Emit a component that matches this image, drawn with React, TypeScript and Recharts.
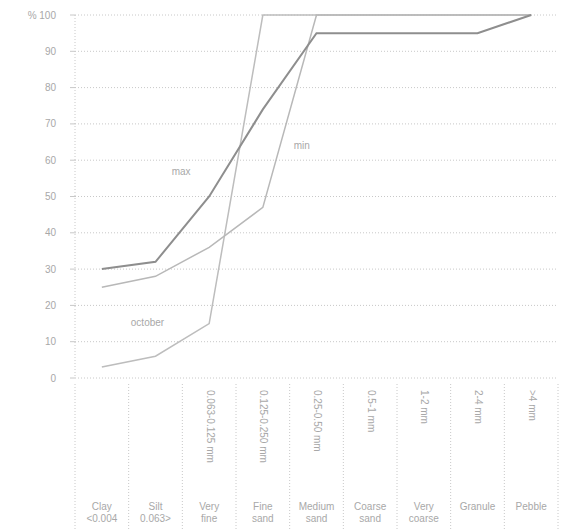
import React from "react";
import { LineChart, Line, XAxis, YAxis, CartesianGrid } from "recharts";

// Grain size categories (two text rows under the chart)
const categories = ["Clay", "Silt", "Very", "Fine", "Medium", "Coarse", "Very", "Granule", "Pebble"];
const subLabels = ["<0.004", "0.063>", "fine", "sand", "sand", "sand", "coarse", "", ""];
// Rotated size ranges inside each column
const sizeRanges = ["", "", "0.063-0.125 mm", "0.125-0.250 mm", "0.25-0.50 mm", "0.5-1 mm", "1-2 mm", "2-4 mm", ">4 mm"];

// Cumulative percent
const maxValues = [30, 32, 50, 74, 95, 95, 95, 95, 100];
const minValues = [25, 28, 36, 47, 100, 100, 100, 100, 100];
const octoberValues = [3, 6, 15, 100, 100, 100, 100, 100, 100];

const yTicks = [0, 10, 20, 30, 40, 50, 60, 70, 80, 90, 100];

const data = categories.map((c, i) => ({
  key: `${c}-${i}`,
  max: maxValues[i],
  min: minValues[i],
  october: octoberValues[i],
}));

const W = 564;
const H = 531;
const LEFT = 75;
const RIGHT = 6;
const AXIS_H = 153;
const BAND = (W - LEFT - RIGHT) / categories.length;
const FONT = "'Liberation Sans', Arial, sans-serif";
const TEXT = "#a8a8a8";
const GRID = "#c8c8c8";

// Custom x tick: separators, rotated size range, two label rows
const CategoryTick = (props: any) => {
  const { x, y, index } = props;
  const top = y - 2;
  return (
    <g fontFamily={FONT} fontSize={10} fill={TEXT}>
      {index === 0 && (
        <line x1={x - BAND / 2} x2={x - BAND / 2} y1={top} y2={top + 148} stroke={GRID} strokeDasharray="1 2" />
      )}
      <line x1={x + BAND / 2} x2={x + BAND / 2} y1={top} y2={top + 148} stroke={GRID} strokeDasharray="1 2" />
      {sizeRanges[index] && (
        <text x={x} y={top + 6} transform={`rotate(90 ${x} ${top + 6})`} dominantBaseline="middle" textAnchor="start">
          {sizeRanges[index]}
        </text>
      )}
      <text x={x} y={top + 126} textAnchor="middle">{categories[index]}</text>
      <text x={x} y={top + 138} textAnchor="middle">{subLabels[index]}</text>
    </g>
  );
};

// Series name written once next to its line
const seriesLabel = (name: string, at: number, dx: number, dy: number) => (props: any) => {
  const { x, y, index } = props;
  if (index !== at) return null;
  return (
    <text x={x + dx} y={y + dy} fontFamily={FONT} fontSize={10} fill={TEXT} textAnchor="middle">
      {name}
    </text>
  );
};

export default function App() {
  return (
    <div style={{ position: "absolute", left: 0, top: 0, background: "#fff" }}>
      <LineChart width={W} height={H} data={data} margin={{ top: 15, right: RIGHT, left: 0, bottom: 0 }}>
        <CartesianGrid vertical={false} stroke={GRID} strokeDasharray="1 2" />
        <XAxis
          dataKey="key"
          scale="band"
          height={AXIS_H}
          axisLine={false}
          tickLine={false}
          interval={0}
          tick={<CategoryTick />}
        />
        <YAxis
          width={LEFT}
          domain={[0, 100]}
          ticks={yTicks}
          interval={0}
          axisLine={{ stroke: GRID, strokeDasharray: "1 2" }}
          tickLine={{ stroke: GRID }}
          tickSize={5}
          tickMargin={14}
          tick={{ fill: TEXT, fontSize: 10, fontFamily: FONT }}
          tickFormatter={(v: number) => (v === 100 ? "%   100" : String(v))}
        />
        <Line
          dataKey="october"
          stroke="#bdbdbd"
          strokeWidth={1.5}
          dot={false}
          isAnimationActive={false}
          label={seriesLabel("october", 1, -8, -30)}
        />
        <Line
          dataKey="min"
          stroke="#b8b8b8"
          strokeWidth={1.5}
          dot={false}
          isAnimationActive={false}
          label={seriesLabel("min", 3, 39, -58)}
        />
        <Line
          dataKey="max"
          stroke="#8e8e8e"
          strokeWidth={2}
          dot={false}
          isAnimationActive={false}
          label={seriesLabel("max", 2, -28, -22)}
        />
      </LineChart>
    </div>
  );
}
